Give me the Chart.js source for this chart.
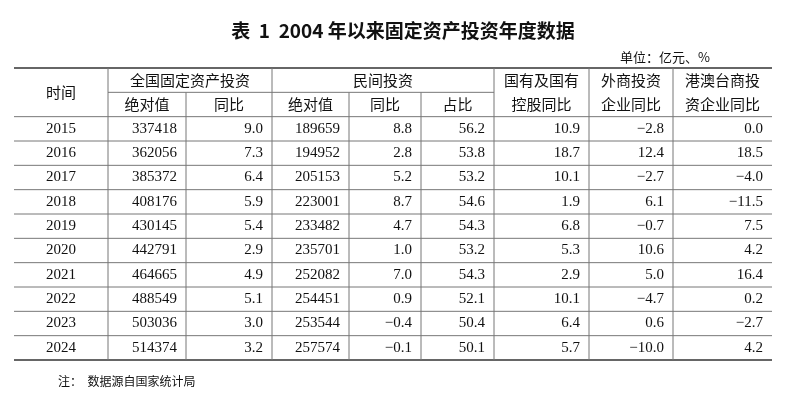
<!DOCTYPE html>
<html><head><meta charset="utf-8">
<script src="https://cdn.jsdelivr.net/npm/chart.js@4"></script>
<style>body{margin:0;background:#fff}</style></head>
<body><canvas id="c" width="800" height="400"></canvas>
<script>
const years=['2015','2016','2017','2018','2019','2020','2021','2022','2023','2024'];
const totalAbs=[337418,362056,385372,408176,430145,442791,464665,488549,503036,514374];
const totalYoy=['9.0','7.3','6.4','5.9','5.4','2.9','4.9','5.1','3.0','3.2'];
const privAbs=[189659,194952,205153,223001,233482,235701,252082,254451,253544,257574];
const privYoy=['8.8','2.8','5.2','8.7','4.7','1.0','7.0','0.9','-0.4','-0.1'];
const privShare=['56.2','53.8','53.2','54.6','54.3','53.2','54.3','52.1','50.4','50.1'];
const stateYoy=['10.9','18.7','10.1','1.9','6.8','5.3','2.9','10.1','6.4','5.7'];
const foreignYoy=['-2.8','12.4','-2.7','6.1','-0.7','10.6','5.0','-4.7','0.6','-10.0'];
const hmtYoy=['0.0','18.5','-4.0','-11.5','7.5','4.2','16.4','0.2','-2.7','4.2'];
const title='表  1  2004 年以来固定资产投资年度数据';
const unitText='单位：亿元、%';
const noteText='注：  数据源自国家统计局';
const rowKeys=['h1','h2',...years];
const edges=[14,108,186,272,349,421,494,589,673,772];
const cols=[years,totalAbs,totalYoy,privAbs,privYoy,privShare,stateYoy,foreignYoy,hmtYoy];
const FONT='"Liberation Serif","Noto Serif CJK SC","Noto Sans CJK SC",serif';
const CJK='"Noto Sans CJK SC",sans-serif';
const tablePlugin={id:'table',afterDraw(ch){
 const c=ch.ctx,xs=ch.scales.x,ys=ch.scales.y;
 const X=v=>xs.getPixelForValue(v);
 const Y=i=>ys.getPixelForValue(i);
 const half=(Y(1)-Y(0))/2;
 const top=Y(0)-half,bot=Y(rowKeys.length-1)+half;
 c.save();
 c.fillStyle='#111';c.textBaseline='middle';
 c.font='bold 19px '+CJK;c.textAlign='center';c.fillText(title,403,31);
 c.font='13px '+CJK;c.textAlign='left';c.fillText(unitText,620,57);
 c.font='12px '+CJK;c.fillText(noteText,58,381);
 const hl=(y,x0,x1,w,col)=>{c.strokeStyle=col;c.lineWidth=w;c.beginPath();c.moveTo(x0,y);c.lineTo(x1,y);c.stroke();};
 const vl=(x,y0,y1)=>{c.strokeStyle='#777';c.lineWidth=1;c.beginPath();c.moveTo(x,y0);c.lineTo(x,y1);c.stroke();};
 const L=X(edges[0]),R=X(edges[edges.length-1]);
 hl(top,L,R,1.5,'#333');hl(bot,L,R,1.5,'#333');
 hl(Y(0)+half,X(edges[1]),X(edges[6]),1,'#777');
 for(let i=1;i<rowKeys.length-1;i++)hl(Y(i)+half,L,R,1,'#777');
 for(let k=1;k<edges.length-1;k++){
   const subOnly=(k===2||k===4||k===5);
   vl(X(edges[k]),subOnly?Y(1)-half:top,bot);
 }
 c.textAlign='center';c.font='15px '+CJK;
 const mid=(a,b)=>(X(edges[a])+X(edges[b]))/2;
 c.fillText('时间',mid(0,1),Y(0)+half);
 c.fillText('全国固定资产投资',mid(1,3),Y(0));
 c.fillText('民间投资',mid(3,6),Y(0));
 [['绝对值',1],['同比',2],['绝对值',3],['同比',4],['占比',5]].forEach(([t,k])=>c.fillText(t,mid(k,k+1),Y(1)));
 [['国有及国有','控股同比',6],['外商投资','企业同比',7],['港澳台商投','资企业同比',8]].forEach(([a,b,k])=>{c.fillText(a,mid(k,k+1),Y(0));c.fillText(b,mid(k,k+1),Y(1));});
 c.font='15px '+FONT;
 cols.forEach((arr,k)=>{
   arr.forEach((v,i)=>{
     const s=String(v).replace('-','−');
     if(k===0){c.textAlign='center';c.fillText(s,mid(0,1),Y(i+2));}
     else{c.textAlign='right';c.fillText(s,X(edges[k+1])-9,Y(i+2));}
   });
 });
 c.restore();
}};
new Chart(document.getElementById('c'),{
 type:'scatter',
 data:{datasets:[{data:[],pointRadius:0}]},
 options:{responsive:false,animation:false,
  layout:{padding:{left:14,right:28,top:68,bottom:40}},
  plugins:{legend:{display:false},tooltip:{enabled:false}},
  scales:{
   x:{type:'linear',min:14,max:772,display:false},
   y:{type:'category',labels:rowKeys,offset:true,display:false}
  }},
 plugins:[tablePlugin]
});
</script></body></html>
